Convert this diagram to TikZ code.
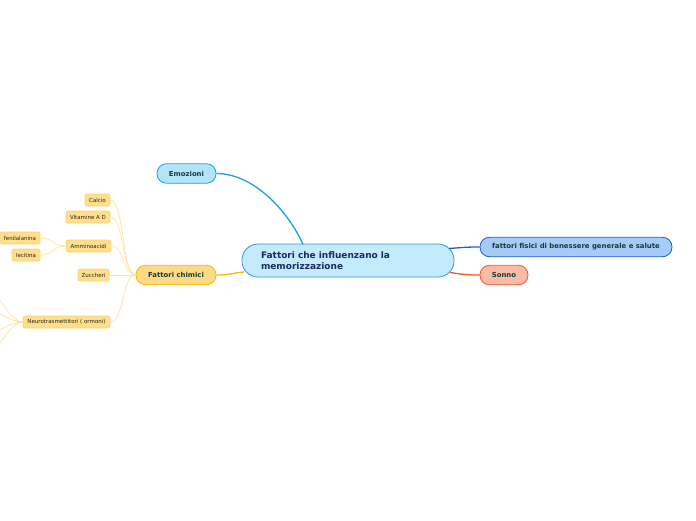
\documentclass[tikz,border=0pt]{standalone}
\usepackage{fontspec}
\setmainfont{DejaVu Sans}
\usetikzlibrary{positioning}
\definecolor{navy}{HTML}{1A2A5C}
\definecolor{deep}{HTML}{173A34}
\definecolor{sky}{HTML}{1BA1E2}
\definecolor{skyfill}{HTML}{B3E5FA}
\definecolor{corefill}{HTML}{C4EBFC}
\definecolor{coreline}{HTML}{3C94D4}
\definecolor{amber}{HTML}{F6B60C}
\definecolor{amberfill}{HTML}{FFDA85}
\definecolor{leafline}{HTML}{FFD36A}
\definecolor{leaffill}{HTML}{FFDE8C}
\definecolor{twig}{HTML}{FFE39A}
\definecolor{royal}{HTML}{1D5ED0}
\definecolor{royalfill}{HTML}{A7CBF9}
\definecolor{coral}{HTML}{F0582A}
\definecolor{coralfill}{HTML}{F9BBA7}

\begin{document}
\begin{tikzpicture}[x=1pt,y=-1pt]
      \tikzset{
        core/.style={draw=coreline,fill=corefill,rounded corners=16pt,line width=.8pt,
            minimum width=212pt,minimum height=33pt,text width=174pt,inner xsep=19pt,
            inner ysep=0pt,align=left,font=\fontsize{9}{11}\selectfont\bfseries,text=navy},
        topic/.style={rounded corners=9.5pt,line width=.8pt,minimum height=19.5pt,
            inner sep=0pt,font=\fontsize{6.9}{8}\selectfont\bfseries,text=deep},
        leaf/.style={draw=leafline,fill=leaffill,rounded corners=2pt,line width=.6pt,
            minimum height=12pt,inner sep=0pt,font=\fontsize{5.5}{6.5}\selectfont,text=black!85},
        link/.style={line width=1.3pt},
        twiglink/.style={draw=twig,line width=.7pt}
      }
      \useasboundingbox (0,0) rectangle (696,520);
      \clip (0,0) rectangle (696,520);

      \node[core] (main) at (348,260.5) {Fattori che influenzano la\\memorizzazione};
      \node[topic,draw=sky,fill=skyfill,minimum width=59pt] (emo) at (186.5,173.5) {Emozioni};
      \node[topic,draw=amber,fill=amberfill,minimum width=80pt] (chem) at (176,275) {Fattori chimici};
      \node[topic,draw=royal,fill=royalfill,minimum width=192pt] (fis) at (576,247) {fattori fisici di benessere generale e salute};
      \node[topic,draw=coral,fill=coralfill,minimum width=48pt] (sonno) at (504,275) {Sonno};

      \node[leaf,minimum width=25pt] (calcio) at (97.5,200) {Calcio};
      \node[leaf,minimum width=44pt] (vit) at (88,217) {Vitamine A D};
      \node[leaf,minimum width=45pt] (ammino) at (88.5,246) {Amminoacidi};
      \node[leaf,minimum width=40pt] (feni) at (20,238) {fenilalanina};
      \node[leaf,minimum width=28pt] (leci) at (26,255) {lecitina};
      \node[leaf,minimum width=31pt] (zucc) at (93.5,275) {Zuccheri};
      \node[leaf,minimum width=87pt] (neuro) at (66.5,322) {Neurotrasmettitori ( ormoni)};

      \coordinate (memo) at (303,244.5);
      \coordinate (mchem) at (244,272);
      \coordinate (mfis) at (449,248.5);
      \coordinate (msonno) at (450,272.5);
      \foreach \n/\y in {1/288,2/309,3/334,4/355}{
          \coordinate (off\n) at (-16,\y);
        }

      \draw[link,sky] (emo.east) .. controls +(38,0) and +(-14,-32) .. (memo);
      \draw[link,amber] (chem.east) .. controls +(14,0) and +(-12,1) .. (mchem);
      \draw[link,royal] (mfis) .. controls +(14,-1) and +(-14,0) .. (fis.west);
      \draw[link,coral] (msonno) .. controls +(14,2) and +(-14,0) .. (sonno.west);

      \foreach \c in {calcio,vit,ammino,zucc,neuro}{
          \draw[twiglink] (chem.west) .. controls +(-14,0) and +(14,0) .. (\c.east);
        }
      \foreach \c in {feni,leci}{
          \draw[twiglink] (ammino.west) .. controls +(-13,0) and +(13,0) .. (\c.east);
        }
      \foreach \n in {1,...,4}{
          \draw[twiglink] (neuro.west) .. controls +(-14,0) and +(14,0) .. (off\n);
        }
    \end{tikzpicture}
\end{document}
